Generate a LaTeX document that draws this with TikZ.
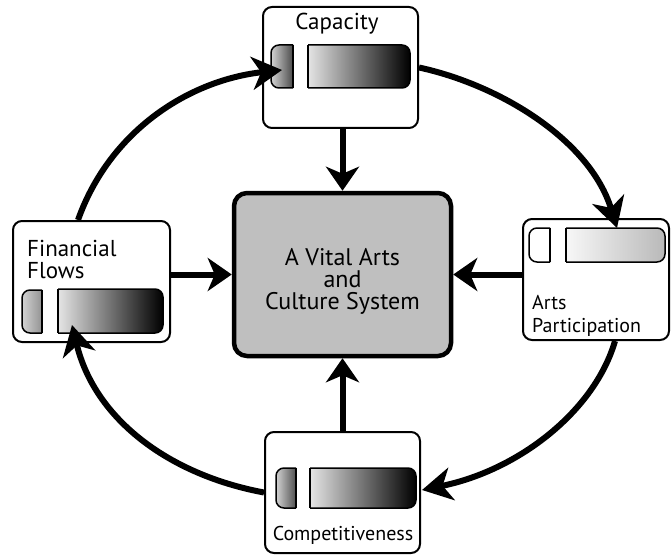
\documentclass[tikz,border=0pt]{standalone}
\usepackage{fontspec}
\setmainfont{PT Sans}
\usetikzlibrary{arrows.meta}
% bar rounded on the left
\newcommand\lbar[5]{\begin{scope}\clip (#1-3,#2-3) rectangle (#3,#4+3);
  \path[barline,draw,#5,rounded corners=8pt] (#1,#2) rectangle (#3+12,#4);\end{scope}
  \draw[barline] (#3,#2) -- (#3,#4);}
% bar rounded on the right
\newcommand\rbar[5]{\begin{scope}\clip (#1,#2-3) rectangle (#3+3,#4+3);
  \path[barline,draw,#5,rounded corners=8pt] (#1-12,#2) rectangle (#3,#4);\end{scope}
  \draw[barline] (#1,#2) -- (#1,#4);}
\tikzset{
  box/.style={draw, line width=2pt, rounded corners=9pt, fill=white, inner sep=0pt},
  cenbox/.style={draw, line width=4.5pt, rounded corners=13pt, fill=gray!50, inner sep=0pt,
    minimum width=217pt, minimum height=163pt},
  flow/.style={line width=6pt, -{Stealth[length=30pt,width=33pt,inset=9pt]}},
  feed/.style={line width=6pt, -{Stealth[length=24pt,width=33pt,inset=7pt]}},
  lbl/.style={font=\fontsize{20}{22}\selectfont, inner sep=0pt},
  biglbl/.style={font=\fontsize{23}{25}\selectfont, inner sep=0pt},
  barline/.style={line width=1.5pt}
}
\begin{document}
\begin{tikzpicture}[x=1pt,y=-1pt]
\useasboundingbox (0,0) rectangle (671,556);
% boxes
\node[box, minimum width=155pt, minimum height=121pt] (cap) at (340.5,67.5) {};
\node[box, minimum width=157pt, minimum height=121pt] (fin) at (91.5,281.5) {};
\node[box, minimum width=146pt, minimum height=121pt] (art) at (596,279.5) {};
\node[box, minimum width=155pt, minimum height=121pt] (com) at (342.5,492.5) {};
\node[cenbox] (cen) at (342.5,274.5) {};
% labels
\node[biglbl, anchor=base] (capt) at (337,30) {Capacity};
\node[biglbl, anchor=base west] (fint1) at (27,256) {Financial};
\node[biglbl, anchor=base west] (fint2) at (27,278) {Flows};
\node[lbl, anchor=base west] (artt1) at (532,309) {Arts};
\node[lbl, anchor=base west] (artt2) at (532,332) {Participation};
\node[lbl, anchor=base] (comt) at (343,540) {Competitiveness};
\node[font=\fontsize{24}{22}\selectfont, align=center, inner sep=0pt] (cent) at (342.5,281)
  {A Vital Arts\\and\\Culture System};
% bars
\lbar{271}{45}{293}{88}{left color=gray!35, right color=black}
\rbar{308}{45}{410}{88}{left color=white, middle color=gray!65, right color=black}
\lbar{22}{290}{42}{333}{left color=gray!35, right color=gray!85!black}
\rbar{58}{289}{163}{333}{left color=white, middle color=gray!65, right color=black}
\lbar{529}{228}{550}{262}{fill=white}
\rbar{566}{228}{665}{262}{left color=white, middle color=gray!12, right color=gray!55}
\lbar{276}{468}{296}{508}{left color=gray!35, right color=black}
\rbar{310}{468}{416}{508}{left color=white, middle color=gray!60!black, right color=black}
% ring tips
\coordinate (t1) at (282,70);
\coordinate (t2) at (617,228);
\coordinate (t3) at (422,490);
\coordinate (t4) at (72,325);
% ring arrows
\draw[flow] ([xshift=-13.5pt]fin.north) .. controls (110,130) and (190,80) .. (t1);
\draw[flow] (cap.east) .. controls (500,85) and (590,140) .. (t2);
\draw[flow] ([xshift=19pt]art.south) .. controls (595,410) and (520,470) .. (t3);
\draw[flow] (com.west) .. controls (170,475) and (95,420) .. (t4);
% feeding arrows
\draw[feed] (cap.south -| cen.north) -- (cen.north);
\draw[feed] (fin.east |- cen.west) -- (cen.west);
\draw[feed] (art.west |- cen.east) -- (cen.east);
\draw[feed] (com.north) -- (cen.south);
\end{tikzpicture}
\end{document}
